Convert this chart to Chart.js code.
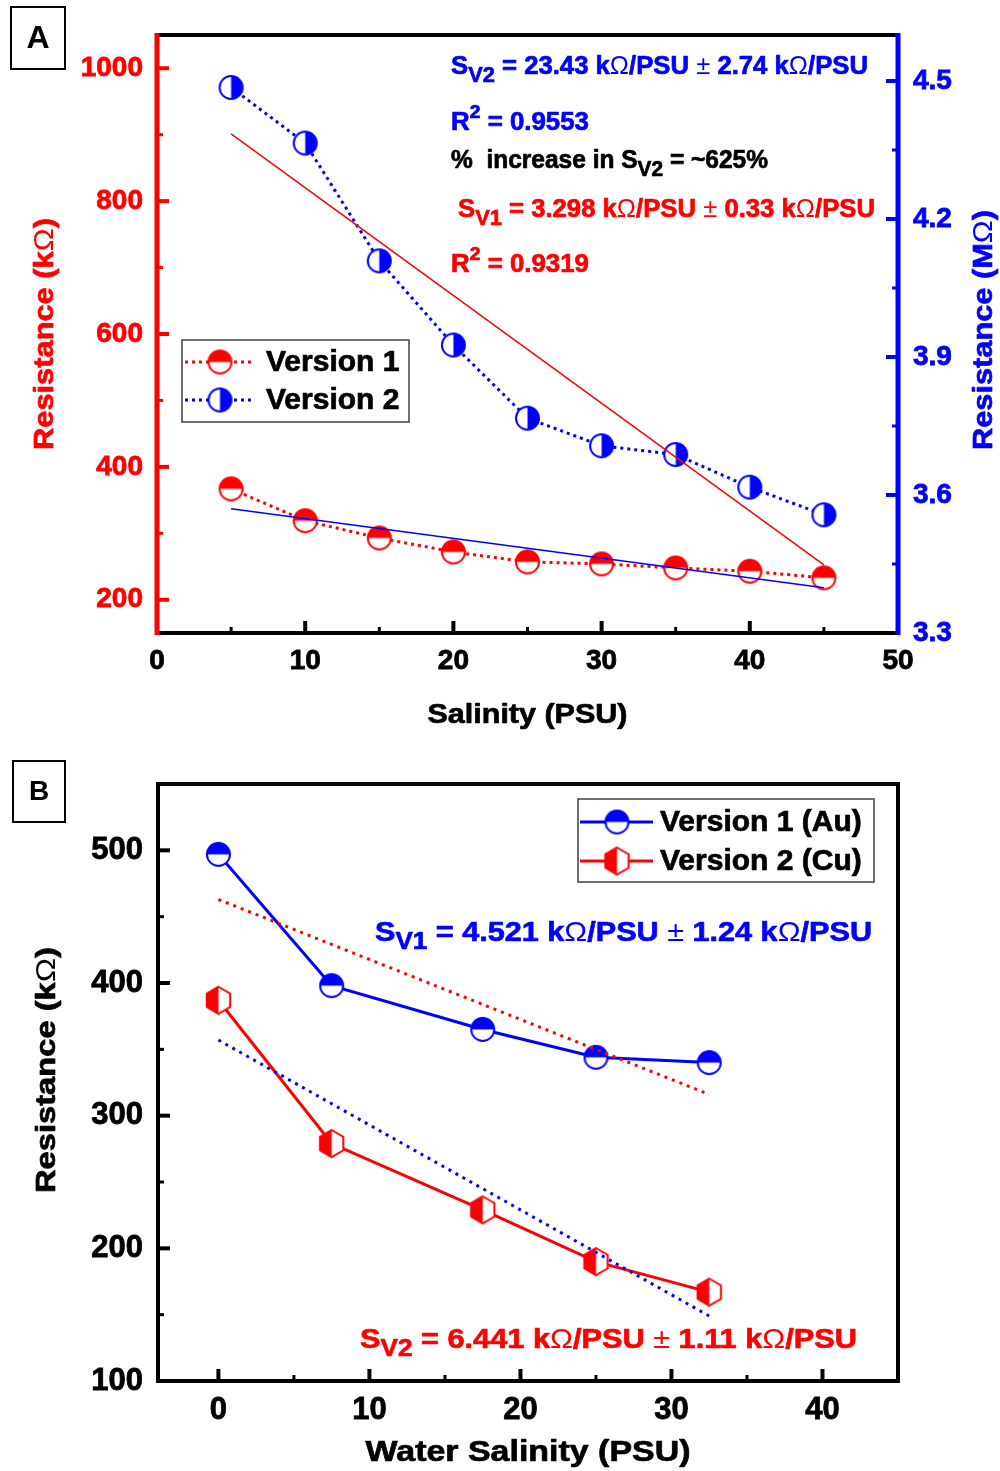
<!DOCTYPE html>
<html>
<head>
<meta charset="utf-8">
<title>Resistance vs salinity</title>
<script src="https://cdn.jsdelivr.net/npm/chart.js@4.4.1/dist/chart.umd.min.js"></script>
<style>
  html, body { margin: 0; padding: 0; background: #fff; }
  body { width: 1000px; height: 1471px; position: relative; overflow: hidden; }
  .panel { position: absolute; left: 0; width: 1000px; }
  #panelA { top: 0; height: 740px; }
  #panelB { top: 740px; height: 731px; }
</style>
</head>
<body>
<div class="panel" id="panelA"><canvas id="chartA"></canvas></div>
<div class="panel" id="panelB"><canvas id="chartB"></canvas></div>
<script>
const RED = '#ff0000';
const BLUE = '#0000ff';
const FONT = "'Liberation Sans', Arial, sans-serif";

// --- panel A: both sensor versions against salinity (two y axes)
const salinityA = [5, 10, 15, 20, 25, 30, 35, 40, 45];
const version1A = [367, 319, 293, 272, 257, 254, 248, 243, 233];                    // kOhm
const version2A = [4.486, 4.365, 4.109, 3.926, 3.767, 3.707, 3.688, 3.617, 3.557];  // MOhm
const fitXA = [5, 45];
const fitV1A = [337, 218];      // linear fit of version 1, kOhm
const fitV2A = [4.385, 3.448];  // linear fit of version 2, MOhm

const xTicksA = [0, 10, 20, 30, 40, 50];
const xMinorA = [5, 15, 25, 35, 45];
const yTicksA = [200, 400, 600, 800, 1000];
const yMinorA = [300, 500, 700, 900];
const y1TicksA = [3.3, 3.6, 3.9, 4.2, 4.5];
const y1MinorA = [3.45, 3.75, 4.05, 4.35];

// --- panel B: Au vs Cu electrodes in water
const salinityB = [0, 7.5, 17.5, 25, 32.5];
const auB = [497, 398, 365, 344, 340];
const cuB = [387, 279, 229, 190, 167];
const fitXB = [0, 32.5];
const fitAuB = [463, 316];
const fitCuB = [357, 149];

const xTicksB = [0, 10, 20, 30, 40];
const xMinorB = [5, 15, 25, 35];
const yTicksB = [100, 200, 300, 400, 500];
const yMinorB = [150, 250, 350, 450];

const pts = (xs, ys) => xs.map((x, i) => ({ x, y: ys[i] }));

// half filled marker drawn once into a small canvas, used as pointStyle
function marker(shape, color, half) {
  const r = shape === 'hex' ? 13.5 : 11.5;
  const size = Math.ceil(r * 2 + 4);
  const c = document.createElement('canvas');
  c.width = size; c.height = size;
  const g = c.getContext('2d');
  const m = size / 2;
  const path = () => {
    g.beginPath();
    if (shape === 'hex') {
      for (let i = 0; i < 6; i++) {
        const a = -Math.PI / 2 + i * Math.PI / 3;
        const px = m + r * Math.cos(a), py = m + r * Math.sin(a);
        if (i) g.lineTo(px, py); else g.moveTo(px, py);
      }
      g.closePath();
    } else {
      g.arc(m, m, r, 0, Math.PI * 2);
    }
  };
  path(); g.fillStyle = '#fff'; g.fill();
  g.save();
  g.beginPath();
  if (half === 'top') g.rect(0, 0, size, m);
  else if (half === 'left') g.rect(0, 0, m, size);
  else g.rect(m, 0, size, size);
  g.clip();
  path(); g.fillStyle = color; g.fill();
  g.restore();
  path(); g.lineWidth = 2; g.strokeStyle = color; g.stroke();
  return c;
}

// text with sub/superscripts; optionally stretched to a given width
function richText(ctx, parts, x, y, o) {
  const size = o.size;
  const fontFor = st => (st === 'thin' ? '' : 'bold ') +
    (st === 'sub' ? size * 0.85 : st === 'sup' ? size * 0.75 : size) + 'px ' + FONT;
  let w = 0;
  for (const p of parts) { ctx.font = fontFor(p[1]); w += ctx.measureText(p[0]).width; }
  const sx = o.width ? o.width / w : 1;
  ctx.save();
  ctx.translate(x, y);
  if (o.rotate) ctx.rotate(o.rotate);
  ctx.scale(sx, 1);
  let cx = o.align === 'center' ? -w / 2 : 0;
  ctx.fillStyle = o.color;
  ctx.strokeStyle = o.color;
  ctx.lineWidth = 0.7;
  ctx.lineJoin = 'round';
  ctx.textBaseline = 'alphabetic';
  ctx.textAlign = 'left';
  for (const p of parts) {
    ctx.font = fontFor(p[1]);
    const dy = p[1] === 'sub' ? size * 0.3 : p[1] === 'sup' ? -size * 0.47 : 0;
    ctx.fillText(p[0], cx, dy);
    if (p[1] !== 'thin') ctx.strokeText(p[0], cx, dy);
    cx += ctx.measureText(p[0]).width;
  }
  ctx.restore();
}

function line(ctx, x1, y1, x2, y2, color, w) {
  ctx.beginPath();
  ctx.moveTo(x1, y1); ctx.lineTo(x2, y2);
  ctx.strokeStyle = color; ctx.lineWidth = w;
  ctx.stroke();
}

// inward tick marks, placed through the chart's own scales
function ticks(chart, id, values, len, w, color) {
  const ctx = chart.ctx, s = chart.scales[id], a = chart.chartArea;
  for (const v of values) {
    const p = s.getPixelForValue(v);
    if (s.axis === 'x') line(ctx, p, a.bottom, p, a.bottom - len, color, w);
    else if (s.position === 'left') line(ctx, a.left, p, a.left + len, p, color, w);
    else line(ctx, a.right, p, a.right - len, p, color, w);
  }
}

function legendBox(chart, box, rows) {
  const ctx = chart.ctx;
  const items = chart.data.datasets.filter(d => d.label);
  ctx.save();
  ctx.fillStyle = '#fff';
  ctx.fillRect(box.x, box.y, box.w, box.h);
  ctx.strokeStyle = '#404040'; ctx.lineWidth = 1.5;
  ctx.strokeRect(box.x, box.y, box.w, box.h);
  items.forEach((d, i) => {
    const y = rows.y[i];
    ctx.save();
    ctx.setLineDash(d.borderDash || []);
    line(ctx, rows.x1, y, rows.x2, y, d.borderColor, d.borderWidth);
    ctx.restore();
    const img = d.pointStyle;
    ctx.drawImage(img, rows.mx - img.width / 2, y - img.height / 2);
    ctx.fillStyle = '#000';
    ctx.strokeStyle = '#000';
    ctx.lineWidth = 0.7;
    ctx.font = 'bold ' + rows.size + 'px ' + FONT;
    ctx.textBaseline = 'middle';
    ctx.fillText(d.label, rows.tx, y + 1);
    ctx.strokeText(d.label, rows.tx, y + 1);
  });
  ctx.restore();
}

function panelLabel(ctx, text, box, size) {
  ctx.save();
  ctx.strokeStyle = '#000'; ctx.lineWidth = 2;
  ctx.strokeRect(box.x, box.y, box.w, box.h);
  ctx.fillStyle = '#000';
  ctx.font = 'bold ' + size + 'px ' + FONT;
  ctx.textAlign = 'center'; ctx.textBaseline = 'middle';
  ctx.fillText(text, box.x + box.w / 2, box.y + box.h / 2 + 1);
  ctx.restore();
}

const noGrid = { display: false, drawTicks: false };
const noBorder = { display: false };
function tickOpts(color, size, padding) {
  return {
    color, padding, autoSkip: false, maxRotation: 0, includeBounds: false,
    textStrokeColor: color, textStrokeWidth: 0.8,
    font: { family: FONT, size, weight: 'bold' },
    callback: v => String(v)
  };
}
const setTicks = arr => s => { s.ticks = arr.map(v => ({ value: v })); };

const OHM = 'Ω';

// ---------------- panel A
const decorA = {
  id: 'decorA',
  afterDraw(chart) {
    const ctx = chart.ctx, a = chart.chartArea;
    ctx.save();
    line(ctx, a.left, a.top, a.right, a.top, '#000', 4);
    line(ctx, a.left, a.bottom, a.right, a.bottom, '#000', 4);
    line(ctx, a.left, a.top - 2, a.left, a.bottom + 2, RED, 5);
    line(ctx, a.right, a.top - 2, a.right, a.bottom + 2, BLUE, 5);
    ticks(chart, 'x', xTicksA.slice(1, -1), 12, 4, '#000');
    ticks(chart, 'x', xMinorA, 6, 3, '#000');
    ticks(chart, 'y', yTicksA, 12, 4, RED);
    ticks(chart, 'y', yMinorA, 6, 3, RED);
    ticks(chart, 'y1', y1TicksA.slice(1), 12, 4, BLUE);
    ticks(chart, 'y1', y1MinorA, 6, 3, BLUE);

    const cx = (a.left + a.right) / 2, cy = (a.top + a.bottom) / 2;
    richText(ctx, [['Salinity (PSU)']], cx, 723, { size: 28, width: 200, align: 'center', color: '#000' });
    richText(ctx, [['Resistance (k'], [OHM, 'thin'], [')']], 53, cy, { size: 28, width: 232, align: 'center', color: RED, rotate: -Math.PI / 2 });
    richText(ctx, [['Resistance (M'], [OHM, 'thin'], [')']], 992, cy - 4, { size: 28, width: 240, align: 'center', color: BLUE, rotate: -Math.PI / 2 });

    richText(ctx, [['S'], ['V2', 'sub'], [' = 23.43 k'], [OHM, 'thin'], ['/PSU '], ['±', 'thin'], [' 2.74 k'], [OHM, 'thin'], ['/PSU']],
      451, 74, { size: 25, width: 417, color: BLUE });
    richText(ctx, [['R'], ['2', 'sup'], [' = 0.9553']], 451, 130, { size: 25, width: 138, color: BLUE });
    richText(ctx, [['%  increase in S'], ['V2', 'sub'], [' = ~625%']], 451, 168, { size: 25, width: 317, color: '#000' });
    richText(ctx, [['S'], ['V1', 'sub'], [' = 3.298 k'], [OHM, 'thin'], ['/PSU '], ['±', 'thin'], [' 0.33 k'], [OHM, 'thin'], ['/PSU']],
      458, 217, { size: 25, width: 417, color: RED });
    richText(ctx, [['R'], ['2', 'sup'], [' = 0.9319']], 451, 272, { size: 25, width: 138, color: RED });

    legendBox(chart, { x: 182, y: 340, w: 227, h: 82 },
      { y: [362, 400], x1: 185, x2: 255, mx: 220, tx: 266, size: 30 });
    panelLabel(ctx, 'A', { x: 11, y: 7, w: 54, h: 62 }, 32);
    ctx.restore();
  }
};

new Chart(document.getElementById('chartA'), {
  type: 'line',
  data: {
    datasets: [
      { data: pts(fitXA, fitV1A), yAxisID: 'y', borderColor: BLUE, borderWidth: 1.5, pointRadius: 0, order: 0 },
      { data: pts(fitXA, fitV2A), yAxisID: 'y1', borderColor: RED, borderWidth: 1.5, pointRadius: 0, order: 0 },
      { label: 'Version 1', data: pts(salinityA, version1A), yAxisID: 'y', borderColor: RED, borderWidth: 3,
        borderDash: [3, 4], pointStyle: marker('circle', RED, 'top'), pointRadius: 12, order: 1 },
      { label: 'Version 2', data: pts(salinityA, version2A), yAxisID: 'y1', borderColor: BLUE, borderWidth: 3,
        borderDash: [3, 4], pointStyle: marker('circle', BLUE, 'right'), pointRadius: 12, order: 1 }
    ]
  },
  options: {
    responsive: true, maintainAspectRatio: false, animation: false, events: [],
    layout: { padding: { top: 35, left: 0, right: 0, bottom: 0 }, autoPadding: false },
    plugins: { legend: { display: false }, tooltip: { enabled: false } },
    scales: {
      x: { type: 'linear', min: 0, max: 50, grid: noGrid, border: noBorder,
        afterBuildTicks: setTicks(xTicksA), afterFit: s => { s.height = 107; },
        ticks: tickOpts('#000', 28, 11) },
      y: { type: 'linear', position: 'left', min: 150, max: 1050, grid: noGrid, border: noBorder,
        afterBuildTicks: setTicks(yTicksA), afterFit: s => { s.width = 157; },
        ticks: tickOpts(RED, 28, 14) },
      y1: { type: 'linear', position: 'right', min: 3.3, max: 4.6, grid: noGrid, border: noBorder,
        afterBuildTicks: setTicks(y1TicksA), afterFit: s => { s.width = 102; },
        ticks: tickOpts(BLUE, 28, 15) }
    }
  },
  plugins: [decorA]
});

// ---------------- panel B
const decorB = {
  id: 'decorB',
  afterDraw(chart) {
    const ctx = chart.ctx, a = chart.chartArea;
    ctx.save();
    line(ctx, a.left - 2, a.top, a.right + 2, a.top, '#000', 4);
    line(ctx, a.left - 2, a.bottom, a.right + 2, a.bottom, '#000', 4);
    line(ctx, a.left, a.top, a.left, a.bottom, '#000', 4);
    line(ctx, a.right, a.top, a.right, a.bottom, '#000', 4);
    ticks(chart, 'x', xTicksB, 12, 4, '#000');
    ticks(chart, 'x', xMinorB, 6, 3, '#000');
    ticks(chart, 'y', yTicksB.slice(1), 12, 4, '#000');
    ticks(chart, 'y', yMinorB, 6, 3, '#000');

    const cx = (a.left + a.right) / 2;
    richText(ctx, [['Water Salinity (PSU)']], cx, 721, { size: 29, width: 325, align: 'center', color: '#000' });
    richText(ctx, [['Resistance (k'], [OHM, 'thin'], [')']], 55, 330, { size: 28, width: 246, align: 'center', color: '#000', rotate: -Math.PI / 2 });

    richText(ctx, [['S'], ['V1', 'sub'], [' = 4.521 k'], [OHM, 'thin'], ['/PSU '], ['±', 'thin'], [' 1.24 k'], [OHM, 'thin'], ['/PSU']],
      375, 201, { size: 28, width: 497, color: BLUE });
    richText(ctx, [['S'], ['V2', 'sub'], [' = 6.441 k'], [OHM, 'thin'], ['/PSU '], ['±', 'thin'], [' 1.11 k'], [OHM, 'thin'], ['/PSU']],
      360, 608, { size: 28, width: 497, color: RED });

    legendBox(chart, { x: 578, y: 59, w: 296, h: 83 },
      { y: [82, 121], x1: 580, x2: 653, mx: 617, tx: 660, size: 30 });
    panelLabel(ctx, 'B', { x: 13, y: 21, w: 52, h: 61 }, 28);
    ctx.restore();
  }
};

new Chart(document.getElementById('chartB'), {
  type: 'line',
  data: {
    datasets: [
      { data: pts(fitXB, fitAuB), borderColor: RED, borderWidth: 3, borderDash: [3, 5], pointRadius: 0, order: 0 },
      { data: pts(fitXB, fitCuB), borderColor: BLUE, borderWidth: 3, borderDash: [3, 5], pointRadius: 0, order: 0 },
      { label: 'Version 1 (Au)', data: pts(salinityB, auB), borderColor: BLUE, borderWidth: 3,
        pointStyle: marker('circle', BLUE, 'top'), pointRadius: 12, order: 1 },
      { label: 'Version 2 (Cu)', data: pts(salinityB, cuB), borderColor: RED, borderWidth: 3,
        pointStyle: marker('hex', RED, 'left'), pointRadius: 12, order: 1 }
    ]
  },
  options: {
    responsive: true, maintainAspectRatio: false, animation: false, events: [],
    layout: { padding: { top: 44, left: 0, right: 102, bottom: 0 }, autoPadding: false },
    plugins: { legend: { display: false }, tooltip: { enabled: false } },
    scales: {
      x: { type: 'linear', min: -4, max: 45, grid: noGrid, border: noBorder,
        afterBuildTicks: setTicks(xTicksB), afterFit: s => { s.height = 90; },
        ticks: tickOpts('#000', 31, 11) },
      y: { type: 'linear', position: 'left', min: 100, max: 550, grid: noGrid, border: noBorder,
        afterBuildTicks: setTicks(yTicksB), afterFit: s => { s.width = 158; },
        ticks: tickOpts('#000', 31, 15) }
    }
  },
  plugins: [decorB]
});
</script>
</body>
</html>
